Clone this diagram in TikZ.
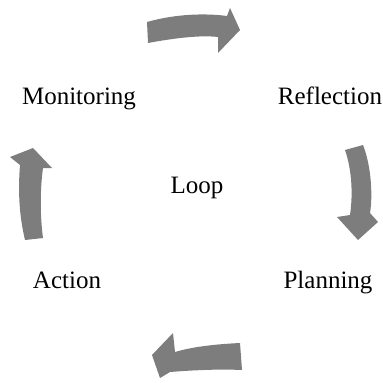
\documentclass[tikz,border=0pt]{standalone}
\usepackage{fontspec}
\setmainfont{Liberation Serif}
\definecolor{arrowgray}{RGB}{125,125,125}
\begin{document}
\begin{tikzpicture}[x=1pt,y=-1pt,
  cyclearrow/.style={fill=arrowgray,draw=none},
  lbl/.style={font=\fontsize{25}{30}\selectfont,inner sep=0pt,anchor=base}]
\useasboundingbox (0,0) rectangle (383,383);
% arrows
\path[cyclearrow] (147,22) .. controls (175,14) and (205,13) .. (227,16) -- (230,8) -- (240,30) -- (218,53) -- (218,37) .. controls (200,35) and (175,38) .. (148,43) -- cycle;
\path[cyclearrow] (345,150) -- (363,145) .. controls (371,165) and (373,195) .. (370,213) -- (378,222) -- (358,240) -- (337,217) -- (350,215) .. controls (353,195) and (352,170) .. (345,150) -- cycle;
\path[cyclearrow] (240,343) .. controls (220,344) and (195,346) .. (175,352) -- (173,333) -- (152,355) -- (160,378) -- (170,372) .. controls (195,370) and (220,369) .. (242,370) -- cycle;
\path[cyclearrow] (33,148) -- (52,168) -- (43,168) .. controls (40,190) and (40,215) .. (43,238) -- (25,240) .. controls (19,215) and (18,190) .. (20,165) -- (10,157) -- cycle;
% labels
\node[lbl] (mon) at (79,104) {Monitoring};
\node[lbl] (ref) at (330,104) {Reflection};
\node[lbl] (loop) at (197,193) {Loop};
\node[lbl] (act) at (67,288) {Action};
\node[lbl] (plan) at (328,288) {Planning};
\end{tikzpicture}
\end{document}
